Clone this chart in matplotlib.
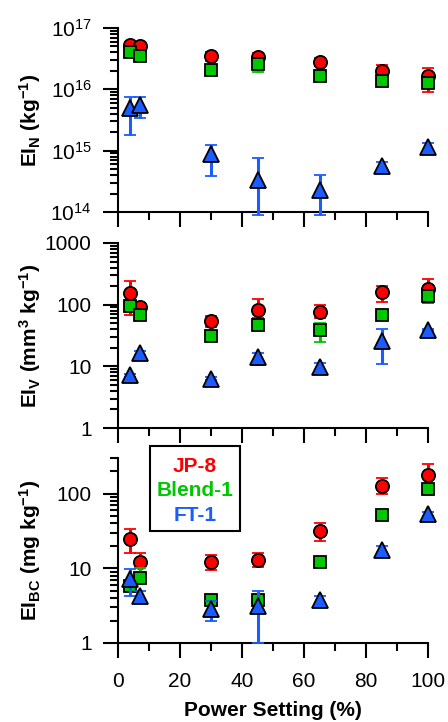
import matplotlib as mpl
mpl.use('Agg')
import matplotlib.pyplot as plt
from matplotlib.patches import Rectangle
from matplotlib import ticker
import numpy as np

plt.rcParams['font.family'] = ['Liberation Sans', 'DejaVu Sans']
plt.rcParams['mathtext.default'] = 'regular'

# power settings (%)
power = [4, 7, 30, 45, 65, 85, 100]

# EI_N (kg^-1)
jp8_n = [5.3e16, 5.0e16, 3.5e16, 3.4e16, 2.8e16, 2.0e16, 1.65e16]
jp8_n_lo = [4.6e16, 4.4e16, 2.9e16, 2.8e16, 2.4e16, 1.6e16, 0.9e16]
jp8_n_hi = [5.9e16, 5.6e16, 4.0e16, 3.9e16, 3.2e16, 2.5e16, 2.25e16]
blend_n = [4.1e16, 3.5e16, 2.1e16, 2.6e16, 1.65e16, 1.37e16, 1.26e16]
blend_n_lo = [3.7e16, 3.2e16, 1.9e16, 1.9e16, 1.5e16, 1.25e16, 1.1e16]
blend_n_hi = [4.5e16, 3.8e16, 2.3e16, 3.1e16, 1.8e16, 1.5e16, 1.4e16]
ft_n = [4.9e15, 5.6e15, 8.8e14, 3.3e14, 2.3e14, 5.6e14, 1.16e15]
ft_n_lo = [1.8e15, 3.4e15, 3.8e14, 0.9e14, 0.9e14, 4.5e14, 9.2e14]
ft_n_hi = [7.6e15, 7.5e15, 1.26e15, 7.6e14, 4.0e14, 6.6e14, 1.35e15]

# EI_V (mm^3 kg^-1)
jp8_v = [154, 91, 54, 82, 77, 158, 179]
jp8_v_lo = [68, 80, 44, 60, 60, 112, 105]
jp8_v_hi = [238, 100, 66, 122, 99, 202, 260]
blend_v = [96, 68, 31, 47, 39, 68, 139]
blend_v_lo = [85, 62, 28, 42, 25, 62, 120]
blend_v_hi = [108, 75, 34, 53, 50, 75, 160]
ft_v = [7.2, 16.6, 6.3, 14.3, 9.8, 26, 39]
ft_v_lo = [6.8, 15.5, 6.0, 10.4, 7.5, 10.9, 37]
ft_v_hi = [7.6, 17.5, 6.6, 16.2, 11.4, 40, 41]

# EI_BC (mg kg^-1)
jp8_bc = [25, 12.2, 12.2, 13.1, 31.6, 127, 176]
jp8_bc_lo = [15.8, 10.5, 9.6, 10.5, 23, 98, 126]
jp8_bc_hi = [34, 16.2, 15, 16.2, 41, 164, 246]
blend_bc = [5.8, 7.4, 3.8, 3.8, 12.2, 51, 114]
blend_bc_lo = [5.2, 6.5, 3.5, 3.5, 11.5, 48, 100]
blend_bc_hi = [6.4, 10, 4.1, 4.1, 13, 54, 128]
ft_bc = [7.1, 4.2, 2.86, 3.1, 3.8, 17.5, 53]
ft_bc_lo = [4.2, 3.4, 2.0, 1.0, 3.4, 14.6, 50]
ft_bc_hi = [9.8, 4.9, 3.6, 4.9, 4.2, 20, 56]

fuels = ['JP-8', 'Blend-1', 'FT-1']
colors = ['#ff0000', '#00c800', '#1a5cff']
markers = ['o', 's', '^']
msizes = [9.5, 9, 11]
FS = 15


def draw(ax, series):
    for i, (y, lo, hi) in enumerate(series):
        y = np.array(y)
        err = [y - np.array(lo), np.array(hi) - y]
        ax.errorbar(power, y, yerr=err, fmt=markers[i], ms=msizes[i],
                    mfc=colors[i], mec='black', mew=1.3, ecolor=colors[i],
                    elinewidth=2.2, capsize=4.5, capthick=2.2,
                    zorder=3 + i, clip_on=False)


def style(ax, ylim, ylabel, fmt):
    ax.set_yscale('log')
    ax.set_ylim(*ylim)
    ax.set_xlim(0, 100)
    ax.spines['top'].set_visible(False)
    ax.spines['right'].set_visible(False)
    ax.spines['left'].set_linewidth(1.5)
    ax.spines['bottom'].set_linewidth(1.5)
    ax.xaxis.set_major_locator(ticker.MultipleLocator(20))
    ax.xaxis.set_minor_locator(ticker.MultipleLocator(10))
    ax.tick_params(which='major', direction='out', length=11, width=1.5,
                   labelsize=FS)
    ax.tick_params(which='minor', direction='out', length=6, width=1.5)
    ax.tick_params(axis='x', pad=10)
    ax.tick_params(axis='y', pad=8)
    ax.yaxis.set_major_locator(ticker.LogLocator(base=10))
    ax.yaxis.set_minor_locator(ticker.LogLocator(base=10, subs=np.arange(2, 10)))
    ax.yaxis.set_minor_formatter(ticker.NullFormatter())
    ax.yaxis.set_major_formatter(fmt)
    ax.set_ylabel(ylabel, fontsize=FS, fontweight='bold')
    ax.yaxis.set_label_coords(-0.242, 0.5)


fig = plt.figure(figsize=(4.48, 7.22), dpi=100)
W, H = 448, 722
ax1 = fig.add_axes([118 / W, 1 - 212 / H, 310 / W, 184 / H])
ax2 = fig.add_axes([118 / W, 1 - 428 / H, 310 / W, 185 / H])
ax3 = fig.add_axes([118 / W, 1 - 643 / H, 310 / W, 185 / H])

plain = ticker.FuncFormatter(lambda v, p: '%g' % v)

draw(ax1, [(jp8_n, jp8_n_lo, jp8_n_hi), (blend_n, blend_n_lo, blend_n_hi),
           (ft_n, ft_n_lo, ft_n_hi)])
style(ax1, (1e14, 1e17), r'EI$_N$ (kg$^{-1}$)', ticker.LogFormatterMathtext())

draw(ax2, [(jp8_v, jp8_v_lo, jp8_v_hi), (blend_v, blend_v_lo, blend_v_hi),
           (ft_v, ft_v_lo, ft_v_hi)])
style(ax2, (1, 1000), r'EI$_V$ (mm$^3$ kg$^{-1}$)', plain)

draw(ax3, [(jp8_bc, jp8_bc_lo, jp8_bc_hi), (blend_bc, blend_bc_lo, blend_bc_hi),
           (ft_bc, ft_bc_lo, ft_bc_hi)])
style(ax3, (1, 300), r'EI$_{BC}$ (mg kg$^{-1}$)', plain)

for ax in (ax1, ax2):
    ax.tick_params(axis='x', labelbottom=False)
ax3.set_xlabel('Power Setting (%)', fontsize=FS, fontweight='bold', labelpad=7)

# legend box: coloured fuel names, no markers
fig.patches.append(Rectangle((150 / W, 1 - 531 / H), 90 / W, 85 / H,
                             transform=fig.transFigure, facecolor='white',
                             edgecolor='black', linewidth=1.5, zorder=10))
for name, c, yb in zip(fuels, colors, [472, 496, 521]):
    fig.text(195 / W, 1 - yb / H, name, color=c, fontsize=FS,
             fontweight='bold', ha='center', va='baseline', zorder=11)

fig.savefig('out.png', dpi=100)
